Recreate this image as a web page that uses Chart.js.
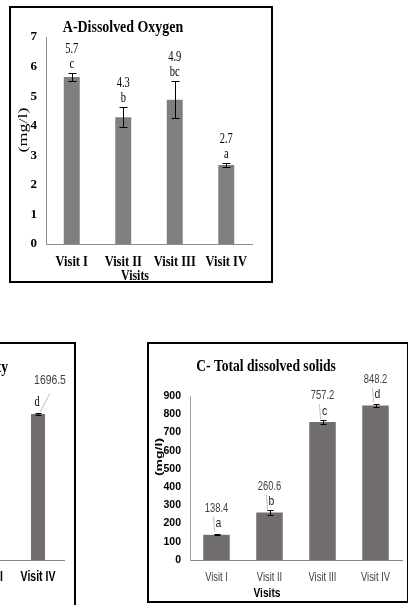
<!DOCTYPE html>
<html>
<head>
<meta charset="utf-8">
<script src="https://cdn.jsdelivr.net/npm/chart.js@4"></script>
<style>
  html, body { margin: 0; padding: 0; background: #fff; width: 408px; height: 605px; overflow: hidden; position: relative; }
  .box { position: absolute; border: 2px solid #000; box-sizing: border-box; background: #fff; }
  canvas { position: absolute; }
</style>
</head>
<body>
<div class="box" style="left:9px;top:6px;width:264px;height:277px"></div>
<canvas id="cA" width="260" height="273" style="left:11px;top:8px"></canvas>

<div class="box" style="left:-300px;top:342px;width:376px;height:280px"></div>
<canvas id="cB" width="371" height="260" style="left:-298px;top:345px"></canvas>

<div class="box" style="left:147px;top:342px;width:262px;height:261px"></div>
<canvas id="cC" width="257" height="257" style="left:149px;top:344px"></canvas>

<script>
// ---------- data ----------
const visits = ['Visit I', 'Visit II', 'Visit III', 'Visit IV'];

// A - Dissolved oxygen (mg/l)
const doValues  = [5.65, 4.29, 4.88, 2.67];
const doErrors  = [0.13, 0.34, 0.63, 0.07];
const doLabels  = ['5.7', '4.3', '4.9', '2.7'];
const doLetters = ['c', 'b', 'bc', 'a'];
const doTicks   = [0, 1, 2, 3, 4, 5, 6, 7];

// B - Electrical conductivity (only the right part is visible)
const ecValues  = [276.8, 521.2, 1514.4, 1696.5];
const ecErrors  = [6, 10, 14, 15];
const ecLabels  = ['276.8', '521.2', '1514.4', '1696.5'];
const ecLetters = ['a', 'b', 'c', 'd'];
const ecTicks   = [0, 200, 400, 600, 800, 1000, 1200, 1400, 1600, 1800, 2000];

// C - Total dissolved solids (mg/l)
const tdsValues  = [138.4, 260.6, 757.2, 848.2];
const tdsErrors  = [3, 16, 10, 8];
const tdsLabels  = ['138.4', '260.6', '757.2', '848.2'];
const tdsLetters = ['a', 'b', 'c', 'd'];
const tdsTicks   = [0, 100, 200, 300, 400, 500, 600, 700, 800, 900];

// ---------- helpers ----------
const SERIF = '"Liberation Serif", "DejaVu Serif", serif';
const SANS = '"Liberation Sans", Arial, sans-serif';

function T(ctx, s, x, y, font, color, sx, align, rot, sy) {
  ctx.save();
  ctx.translate(x, y);
  if (rot) ctx.rotate(rot);
  ctx.scale(sx || 1, sy || 1);
  ctx.font = font;
  ctx.fillStyle = color || '#000';
  ctx.textAlign = align || 'center';
  ctx.textBaseline = 'middle';
  ctx.fillText(s, 0, 0);
  ctx.restore();
}

function buildChart(id, o) {
  const decor = {
    id: 'decor',
    afterDraw(chart) {
      const ctx = chart.ctx, ys = chart.scales.y, xs = chart.scales.x, area = chart.chartArea;
      const meta = chart.getDatasetMeta(0);
      // category labels
      xs.ticks.forEach((t, i) => {
        T(ctx, xs.getLabelForValue(t.value), xs.getPixelForTick(i), area.bottom + o.xTickDy,
          o.xTickFont, o.xTickColor, o.xTickSx);
      });
      meta.data.forEach((bar, i) => {
        const v = o.values[i], e = o.errors[i];
        const cx = Math.round(bar.x) + 0.5;
        const yHi = Math.round(ys.getPixelForValue(v + e)) + 0.5;
        const yLo = Math.round(ys.getPixelForValue(v - e)) + 0.5;
        ctx.save();
        ctx.strokeStyle = '#000';
        ctx.lineWidth = 1;
        ctx.beginPath();
        ctx.moveTo(cx, yHi); ctx.lineTo(cx, yLo);
        ctx.moveTo(cx - o.cap, yHi); ctx.lineTo(cx + o.cap, yHi);
        ctx.moveTo(cx - o.cap, yLo); ctx.lineTo(cx + o.cap, yLo);
        ctx.stroke();
        ctx.restore();
        const ref = o.anchorErr ? ys.getPixelForValue(v + e) : bar.y;
        const dx = o.valueDx ? o.valueDx[i] : 0;
        if (o.leader) {
          const L = o.leader;
          ctx.save();
          ctx.strokeStyle = '#bfbfbf';
          ctx.lineWidth = 1;
          ctx.beginPath();
          ctx.moveTo(bar.x + dx + L[0], ref + L[1]);
          ctx.lineTo(bar.x + L[2], ref + L[3]);
          ctx.stroke();
          ctx.restore();
        }
        T(ctx, o.labels[i], bar.x + dx, ref + o.valueDy, o.valueFont, o.valueColor, o.valueSx);
        T(ctx, o.letters[i], bar.x + (o.letterDx || 0), ref + o.letterDy, o.letterFont, o.letterColor, o.letterSx);
      });
      o.texts.forEach(t => T(ctx, t.s, t.x, t.y, t.font, t.color, t.sx, t.align, t.rot, t.sy));
    }
  };
  const cw = o.canvasW, ch = o.canvasH, a = o.area;
  return new Chart(document.getElementById(id), {
    type: 'bar',
    data: {
      labels: visits,
      datasets: [{
        data: o.values,
        backgroundColor: o.barColor,
        borderWidth: 0,
        barPercentage: o.barPct,
        categoryPercentage: 1
      }]
    },
    options: {
      responsive: false,
      animation: false,
      events: [],
      layout: { padding: { left: 0, top: a.top, right: cw - a.right, bottom: 0 } },
      plugins: { legend: { display: false }, tooltip: { enabled: false }, title: { display: false } },
      scales: {
        x: {
          grid: { display: false, drawTicks: false },
          border: { display: true, color: o.xAxisColor, width: 1 },
          ticks: { display: false },
          afterFit(ax) { ax.height = ch - a.bottom; }
        },
        y: {
          min: 0,
          max: o.ticks[o.ticks.length - 1],
          grid: { display: false, drawTicks: false },
          border: { display: true, color: o.yAxisColor, width: 1 },
          afterBuildTicks(ax) { ax.ticks = o.ticks.map(v => ({ value: v })); },
          ticks: { font: o.yTickFont, color: o.yTickColor, padding: o.yTickPad },
          afterFit(ax) { ax.width = a.left; }
        }
      }
    },
    plugins: [decor]
  });
}

// ---------- A ----------
buildChart('cA', {
  canvasW: 260, canvasH: 273,
  area: { left: 35, right: 241, top: 29, bottom: 236 },
  values: doValues, errors: doErrors, labels: doLabels, letters: doLetters, ticks: doTicks,
  barColor: '#7f7f7f', barPct: 0.31,
  xAxisColor: '#8c8c8c', yAxisColor: '#8c8c8c',
  yTickFont: { family: SERIF, size: 13, weight: 'bold' }, yTickColor: '#000', yTickPad: 9,
  xTickFont: 'bold 15px ' + SERIF, xTickColor: '#000', xTickSx: 0.83, xTickDy: 18,
  cap: 4, anchorErr: true,
  valueFont: '14px ' + SERIF, valueColor: '#000', valueSx: 0.75, valueDy: -24,
  letterFont: '14px ' + SERIF, letterColor: '#000', letterSx: 0.75, letterDy: -9,
  texts: [
    { s: 'A-Dissolved Oxygen', x: 112, y: 20, font: 'bold 16px ' + SERIF, sx: 0.87 },
    { s: '(mg/l)', x: 13, y: 122, font: '18px ' + SERIF, rot: -Math.PI / 2, sy: 0.68 },
    { s: 'Visits', x: 124, y: 268, font: 'bold 14px ' + SERIF, sx: 0.85 }
  ]
});

// ---------- B ----------
buildChart('cB', {
  canvasW: 371, canvasH: 260,
  area: { left: 154, right: 362, top: 43, bottom: 215 },
  values: ecValues, errors: ecErrors, labels: ecLabels, letters: ecLetters, ticks: ecTicks,
  barColor: '#736e6e', barPct: 0.27,
  xAxisColor: '#868686', yAxisColor: '#a0a0a0',
  yTickFont: { family: SANS, size: 10.5, weight: 'bold' }, yTickColor: '#000', yTickPad: 9,
  xTickFont: 'bold 14px ' + SANS, xTickColor: '#000', xTickSx: 0.75, xTickDy: 17,
  cap: 3, anchorErr: false,
  valueDx: [0, 0, -14, 12],
  leader: [0, -21, 2, -2],
  valueFont: '13px ' + SANS, valueColor: '#404040', valueSx: 0.8, valueDy: -34,
  letterFont: '14px ' + SERIF, letterColor: '#000', letterSx: 0.75, letterDy: -12, letterDx: -1,
  texts: [
    { s: 'B- Electrical Conductivity', x: 306, y: 23, font: 'bold 16px ' + SERIF, sx: 0.85, align: 'right' }
  ]
});

// ---------- C ----------
buildChart('cC', {
  canvasW: 257, canvasH: 257,
  area: { left: 41, right: 253, top: 52, bottom: 216 },
  values: tdsValues, errors: tdsErrors, labels: tdsLabels, letters: tdsLetters, ticks: tdsTicks,
  barColor: '#736e6e', barPct: 0.5,
  xAxisColor: '#868686', yAxisColor: '#a0a0a0',
  yTickFont: { family: SANS, size: 10.5, weight: 'bold' }, yTickColor: '#000', yTickPad: 9,
  xTickFont: '13px ' + SANS, xTickColor: '#404040', xTickSx: 0.72, xTickDy: 17,
  cap: 3, anchorErr: false,
  leader: [-3, -18, -2, -3],
  valueFont: '12px ' + SANS, valueColor: '#404040', valueSx: 0.78, valueDy: -26,
  letterFont: '13px ' + SANS, letterColor: '#262626', letterSx: 0.8, letterDy: -11, letterDx: 2,
  texts: [
    { s: 'C- Total dissolved solids', x: 117, y: 23, font: 'bold 16px ' + SERIF, sx: 0.85 },
    { s: '(mg/l)', x: 11, y: 113, font: 'bold 14px ' + SANS, rot: -Math.PI / 2, sy: 0.6 },
    { s: 'Visits', x: 118, y: 250, font: 'bold 12px ' + SANS, sx: 0.85 }
  ]
});
</script>
</body>
</html>
